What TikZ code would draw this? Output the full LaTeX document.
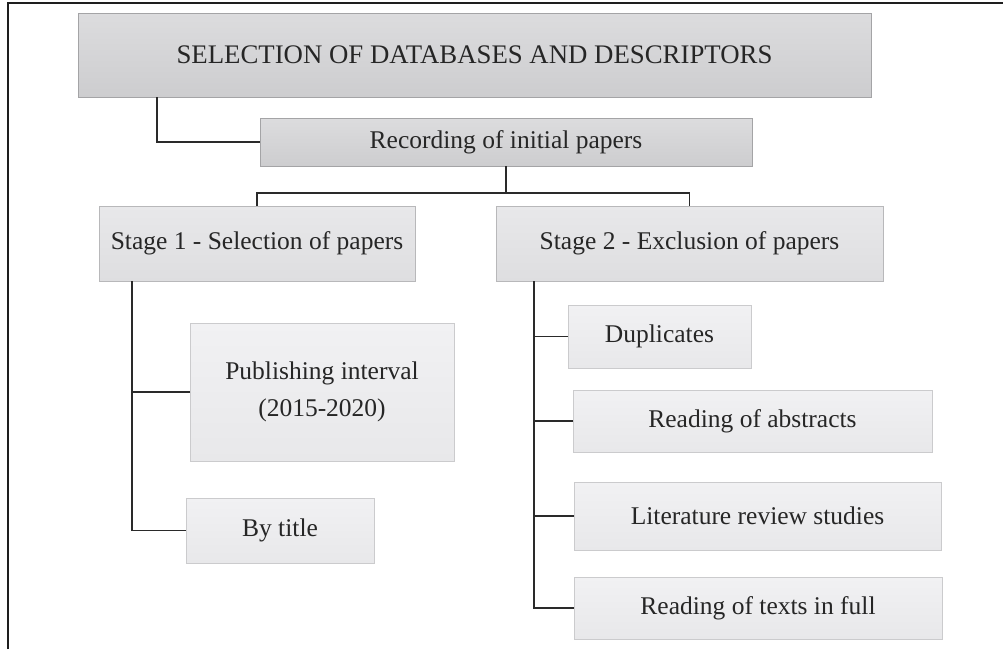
\documentclass[tikz,border=0pt]{standalone}
\usepackage{fontspec}
\setmainfont{Liberation Serif}
\definecolor{framecol}{HTML}{1E1E1E}
\definecolor{linkcol}{HTML}{2A2A2A}
\definecolor{textcol}{HTML}{262626}
\definecolor{darktop}{HTML}{DCDCDE}
\definecolor{darkbot}{HTML}{CDCDCF}
\definecolor{darkedge}{HTML}{A4A4A6}
\definecolor{midtop}{HTML}{E8E8EA}
\definecolor{midbot}{HTML}{DEDEE0}
\definecolor{midedge}{HTML}{B8B8BA}
\definecolor{lighttop}{HTML}{F1F1F3}
\definecolor{lightbot}{HTML}{E8E8EA}
\definecolor{lightedge}{HTML}{CBCBCD}
\tikzset{
  basebox/.style={rectangle, inner sep=0pt, outer sep=0pt, line width=0.9pt,
    text=textcol, align=center, font=\fontsize{25.5}{37}\selectfont},
  headbox/.style={basebox, draw=darkedge, top color=darktop, bottom color=darkbot},
  stagebox/.style={basebox, draw=midedge, top color=midtop, bottom color=midbot},
  leafbox/.style={basebox, draw=lightedge, top color=lighttop, bottom color=lightbot},
  link/.style={draw=linkcol, line width=1.3pt},
}
\begin{document}
\begin{tikzpicture}[x=1pt, y=-1pt]
\useasboundingbox (0,0) rectangle (1003,649);
% page frame (top and left rules)
\draw[framecol, line width=1.6pt] (8,649) -- (8,3) -- (1003,3);

% boxes
\node[headbox, minimum width=793pt, minimum height=84pt, font=\fontsize{26.8}{30}\selectfont]
  (top) at (474.5,55) {SELECTION OF DATABASES AND DESCRIPTORS};
\node[headbox, minimum width=492pt, minimum height=48pt] (rec) at (506,142) {Recording of initial papers};
\node[stagebox, minimum width=316pt, minimum height=75pt] (s1) at (257,243.5) {Stage 1 - Selection of papers};
\node[stagebox, minimum width=387pt, minimum height=75pt] (s2) at (689.5,243.5) {Stage 2 - Exclusion of papers};
\node[leafbox, minimum width=264pt, minimum height=138pt] (pub) at (322,392) {Publishing interval\\(2015-2020)};
\node[leafbox, minimum width=188pt, minimum height=65pt] (by) at (280,530.5) {By title};
\node[leafbox, minimum width=183pt, minimum height=63pt] (dup) at (659.5,336.5) {Duplicates};
\node[leafbox, minimum width=359pt, minimum height=62pt] (abs) at (752.5,421) {Reading of abstracts};
\node[leafbox, minimum width=367pt, minimum height=68pt] (lit) at (757.5,516) {Literature review studies};
\node[leafbox, minimum width=368pt, minimum height=62pt] (full) at (758,608) {Reading of texts in full};

% connectors
\coordinate (j) at (506,193);
\coordinate (s1spine) at ([xshift=33pt]s1.south west);
\coordinate (s2spine) at ([xshift=38pt]s2.south west);
\draw[link] ([xshift=79pt]top.south west) |- (rec.west);
\draw[link] (rec.south) -- (j);
\draw[link] (s1.north) |- (j) -| (s2.north);
\draw[link] (s1spine) |- (by.west);
\draw[link] (pub.west) -- (pub.west -| s1spine);
\draw[link] (s2spine) |- (full.west);
\draw[link] (dup.west) -- (dup.west -| s2spine);
\draw[link] (abs.west) -- (abs.west -| s2spine);
\draw[link] (lit.west) -- (lit.west -| s2spine);
\end{tikzpicture}
\end{document}
